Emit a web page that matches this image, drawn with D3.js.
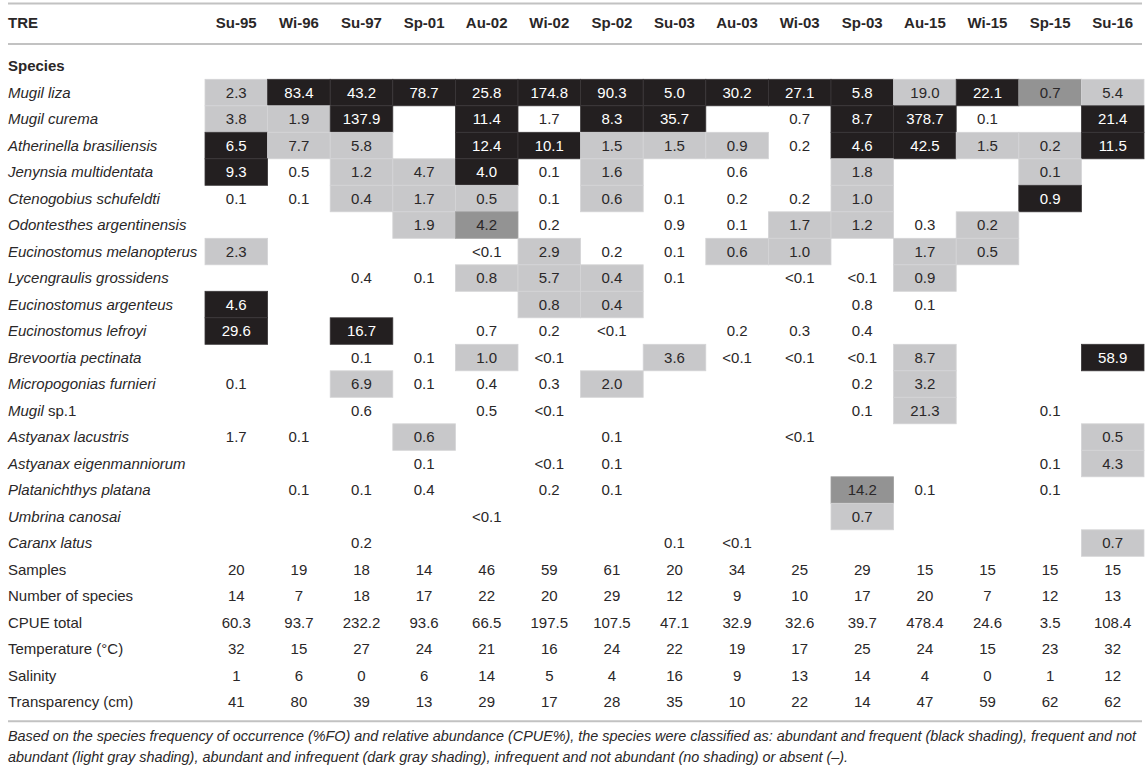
<!DOCTYPE html>
<html>
<head>
<meta charset="utf-8">
<script src="https://cdn.jsdelivr.net/npm/d3@7"></script>
<style>
  body { margin: 0; background: #fff; }
  text { font-family: "Liberation Sans", Arial, Helvetica, sans-serif; fill: #2a2728; }
</style>
</head>
<body>
<div id="chart"></div>
<script>
// survey columns
var surveys = ["Su-95", "Wi-96", "Su-97", "Sp-01", "Au-02", "Wi-02", "Sp-02", "Su-03",
    "Au-03", "Wi-03", "Sp-03", "Au-15", "Wi-15", "Sp-15", "Su-16"];

var species = ["Mugil liza", "Mugil curema", "Atherinella brasiliensis", "Jenynsia multidentata",
    "Ctenogobius schufeldti", "Odontesthes argentinensis", "Eucinostomus melanopterus",
    "Lycengraulis grossidens", "Eucinostomus argenteus", "Eucinostomus lefroyi",
    "Brevoortia pectinata", "Micropogonias furnieri", "Mugil sp.1", "Astyanax lacustris",
    "Astyanax eigenmanniorum", "Platanichthys platana", "Umbrina canosai", "Caranx latus"];

// CPUE per species and survey ("" = absent)
var cpue = [
    ["2.3", "83.4", "43.2", "78.7", "25.8", "174.8", "90.3", "5.0", "30.2", "27.1", "5.8", "19.0", "22.1", "0.7", "5.4"],
    ["3.8", "1.9", "137.9", "", "11.4", "1.7", "8.3", "35.7", "", "0.7", "8.7", "378.7", "0.1", "", "21.4"],
    ["6.5", "7.7", "5.8", "", "12.4", "10.1", "1.5", "1.5", "0.9", "0.2", "4.6", "42.5", "1.5", "0.2", "11.5"],
    ["9.3", "0.5", "1.2", "4.7", "4.0", "0.1", "1.6", "", "0.6", "", "1.8", "", "", "0.1", ""],
    ["0.1", "0.1", "0.4", "1.7", "0.5", "0.1", "0.6", "0.1", "0.2", "0.2", "1.0", "", "", "0.9", ""],
    ["", "", "", "1.9", "4.2", "0.2", "", "0.9", "0.1", "1.7", "1.2", "0.3", "0.2", "", ""],
    ["2.3", "", "", "", "<0.1", "2.9", "0.2", "0.1", "0.6", "1.0", "", "1.7", "0.5", "", ""],
    ["", "", "0.4", "0.1", "0.8", "5.7", "0.4", "0.1", "", "<0.1", "<0.1", "0.9", "", "", ""],
    ["4.6", "", "", "", "", "0.8", "0.4", "", "", "", "0.8", "0.1", "", "", ""],
    ["29.6", "", "16.7", "", "0.7", "0.2", "<0.1", "", "0.2", "0.3", "0.4", "", "", "", ""],
    ["", "", "0.1", "0.1", "1.0", "<0.1", "", "3.6", "<0.1", "<0.1", "<0.1", "8.7", "", "", "58.9"],
    ["0.1", "", "6.9", "0.1", "0.4", "0.3", "2.0", "", "", "", "0.2", "3.2", "", "", ""],
    ["", "", "0.6", "", "0.5", "<0.1", "", "", "", "", "0.1", "21.3", "", "0.1", ""],
    ["1.7", "0.1", "", "0.6", "", "", "0.1", "", "", "<0.1", "", "", "", "", "0.5"],
    ["", "", "", "0.1", "", "<0.1", "0.1", "", "", "", "", "", "", "0.1", "4.3"],
    ["", "0.1", "0.1", "0.4", "", "0.2", "0.1", "", "", "", "14.2", "0.1", "", "0.1", ""],
    ["", "", "", "", "<0.1", "", "", "", "", "", "0.7", "", "", "", ""],
    ["", "", "0.2", "", "", "", "", "0.1", "<0.1", "", "", "", "", "", "0.7"]
];

// classification: 0 none, 1 frequent (light gray), 2 abundant infrequent (dark gray), 3 abundant+frequent (black)
var classes = [
    [1, 3, 3, 3, 3, 3, 3, 3, 3, 3, 3, 1, 3, 2, 1],
    [1, 1, 3, 0, 3, 0, 3, 3, 0, 0, 3, 3, 0, 0, 3],
    [3, 1, 1, 0, 3, 3, 1, 1, 1, 0, 3, 3, 1, 1, 3],
    [3, 0, 1, 1, 3, 0, 1, 0, 0, 0, 1, 0, 0, 1, 0],
    [0, 0, 1, 1, 1, 0, 1, 0, 0, 0, 1, 0, 0, 3, 0],
    [0, 0, 0, 1, 2, 0, 0, 0, 0, 1, 1, 0, 1, 0, 0],
    [1, 0, 0, 0, 0, 1, 0, 0, 1, 1, 0, 1, 1, 0, 0],
    [0, 0, 0, 0, 1, 1, 1, 0, 0, 0, 0, 1, 0, 0, 0],
    [3, 0, 0, 0, 0, 1, 1, 0, 0, 0, 0, 0, 0, 0, 0],
    [3, 0, 3, 0, 0, 0, 0, 0, 0, 0, 0, 0, 0, 0, 0],
    [0, 0, 0, 0, 1, 0, 0, 1, 0, 0, 0, 1, 0, 0, 3],
    [0, 0, 1, 0, 0, 0, 1, 0, 0, 0, 0, 1, 0, 0, 0],
    [0, 0, 0, 0, 0, 0, 0, 0, 0, 0, 0, 1, 0, 0, 0],
    [0, 0, 0, 1, 0, 0, 0, 0, 0, 0, 0, 0, 0, 0, 1],
    [0, 0, 0, 0, 0, 0, 0, 0, 0, 0, 0, 0, 0, 0, 1],
    [0, 0, 0, 0, 0, 0, 0, 0, 0, 0, 2, 0, 0, 0, 0],
    [0, 0, 0, 0, 0, 0, 0, 0, 0, 0, 1, 0, 0, 0, 0],
    [0, 0, 0, 0, 0, 0, 0, 0, 0, 0, 0, 0, 0, 0, 1]
];

var statLabels = ["Samples", "Number of species", "CPUE total", "Temperature (°C)", "Salinity", "Transparency (cm)"];
var samples = [20, 19, 18, 14, 46, 59, 61, 20, 34, 25, 29, 15, 15, 15, 15];
var nSpecies = [14, 7, 18, 17, 22, 20, 29, 12, 9, 10, 17, 20, 7, 12, 13];
var cpueTotal = ["60.3", "93.7", "232.2", "93.6", "66.5", "197.5", "107.5", "47.1", "32.9", "32.6", "39.7", "478.4", "24.6", "3.5", "108.4"];
var temperature = [32, 15, 27, 24, 21, 16, 24, 22, 19, 17, 25, 24, 15, 23, 32];
var salinity = [1, 6, 0, 6, 14, 5, 4, 16, 9, 13, 14, 4, 0, 1, 12];
var transparency = [41, 80, 39, 13, 29, 17, 28, 35, 10, 22, 14, 47, 59, 62, 62];
var statValues = [samples, nSpecies, cpueTotal, temperature, salinity, transparency];

var footnote = [
    "Based on the species frequency of occurrence (%FO) and relative abundance (CPUE%), the species were classified as: abundant and frequent (black shading), frequent and not",
    "abundant (light gray shading), abundant and infrequent (dark gray shading), infrequent and not abundant (no shading) or absent (–)."
];

var width = 1146, height = 768;
var fills = ["none", "#c8c8ca", "#939393", "#231f20"];
var strokes = ["none", "#d4d4d6", "#a0a0a0", "#3b3839"];

var svg = d3.select("#chart").append("svg")
    .attr("width", width)
    .attr("height", height);

var x = d3.scaleBand().domain(surveys).range([205, 1144]);
var allRows = species.concat(statLabels);
var y = d3.scaleBand().domain(allRows).range([79.3, 79.3 + allRows.length * 26.5]);

// rules
var rules = [3.5, 44, y.range()[1] + 6];
svg.selectAll("line.rule")
    .data(rules)
    .enter().append("line")
    .attr("class", "rule")
    .attr("x1", 8).attr("x2", 1142)
    .attr("y1", d => d).attr("y2", d => d)
    .attr("stroke", "#c2c2c2")
    .attr("stroke-width", 2);

// header
svg.append("text")
    .attr("x", 8).attr("y", 23)
    .attr("dy", "0.35em")
    .style("font-size", "15px")
    .style("font-weight", "bold")
    .text("TRE");

svg.selectAll("text.colhead")
    .data(surveys)
    .enter().append("text")
    .attr("class", "colhead")
    .attr("x", d => x(d) + x.bandwidth() / 2)
    .attr("y", 23)
    .attr("dy", "0.35em")
    .attr("text-anchor", "middle")
    .style("font-size", "15px")
    .style("font-weight", "bold")
    .text(d => d);

svg.append("text")
    .attr("x", 8).attr("y", 66)
    .attr("dy", "0.35em")
    .style("font-size", "15px")
    .style("font-weight", "bold")
    .text("Species");

// species cells
var cells = [];
species.forEach(function (sp, i) {
    surveys.forEach(function (s, j) {
        cells.push({ row: sp, col: s, value: cpue[i][j], cls: classes[i][j] });
    });
});

svg.append("g").selectAll("rect")
    .data(cells.filter(d => d.cls > 0))
    .enter().append("rect")
    .attr("x", d => x(d.col))
    .attr("y", d => y(d.row))
    .attr("width", x.bandwidth())
    .attr("height", y.bandwidth())
    .attr("fill", d => fills[d.cls])
    .attr("stroke", d => strokes[d.cls])
    .attr("stroke-width", 0.8);

svg.append("g").selectAll("text")
    .data(cells.filter(d => d.value !== ""))
    .enter().append("text")
    .attr("x", d => x(d.col) + x.bandwidth() / 2)
    .attr("y", d => y(d.row) + y.bandwidth() / 2)
    .attr("dy", "0.35em")
    .attr("text-anchor", "middle")
    .style("font-size", "15px")
    .style("fill", d => d.cls === 3 ? "#ffffff" : "#2a2728")
    .text(d => d.value);

// row labels: species in italic ("sp.1" upright)
var labels = svg.append("g").selectAll("text")
    .data(species)
    .enter().append("text")
    .attr("x", 8)
    .attr("y", d => y(d) + y.bandwidth() / 2)
    .attr("dy", "0.35em")
    .style("font-size", "15px");

labels.each(function (d) {
    var t = d3.select(this);
    var m = d.match(/^(\S+) (sp\.\d+)$/);
    if (m) {
        t.append("tspan").style("font-style", "italic").text(m[1] + " ");
        t.append("tspan").text(m[2]);
    } else {
        t.style("font-style", "italic").text(d);
    }
});

// stats rows
statLabels.forEach(function (lab, i) {
    svg.append("text")
        .attr("x", 8)
        .attr("y", y(lab) + y.bandwidth() / 2)
        .attr("dy", "0.35em")
        .style("font-size", "15px")
        .text(lab);

    svg.append("g").selectAll("text")
        .data(statValues[i])
        .enter().append("text")
        .attr("x", (d, j) => x(surveys[j]) + x.bandwidth() / 2)
        .attr("y", y(lab) + y.bandwidth() / 2)
        .attr("dy", "0.35em")
        .attr("text-anchor", "middle")
        .style("font-size", "15px")
        .text(d => d);
});

// footnote
svg.selectAll("text.foot")
    .data(footnote)
    .enter().append("text")
    .attr("class", "foot")
    .attr("x", 8)
    .attr("y", (d, i) => 736 + i * 21)
    .attr("dy", "0.35em")
    .style("font-size", "14.4px")
    .style("font-style", "italic")
    .text(d => d);
</script>
</body>
</html>
